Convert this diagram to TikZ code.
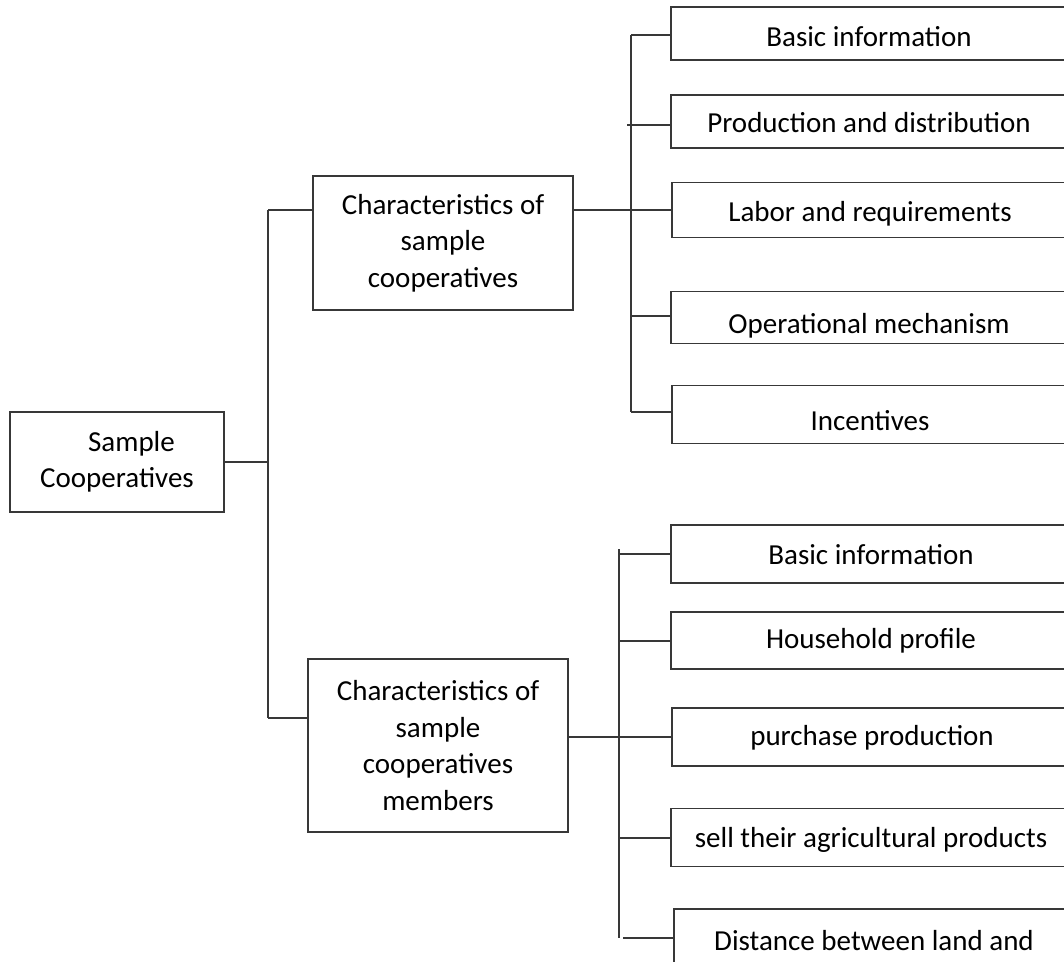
\documentclass[tikz,border=0pt]{standalone}
\usepackage{fontspec}
\setmainfont{Carlito}
\begin{document}
\begin{tikzpicture}[x=1pt,y=-1pt,
  box/.style={draw=black!78, line width=1.2pt, align=center, inner sep=0pt,
    font=\fontsize{29}{36.5}\selectfont},
  leaf/.style={box, text height=34pt, text depth=#1},
  conn/.style={draw=black!78, line width=1.2pt}]
\useasboundingbox (0,0) rectangle (1064,961);
\clip (0,0) rectangle (1064,961);

% main boxes
\node[box, minimum width=214pt, minimum height=100pt] (root) at (117,462) {\hspace*{1em}Sample\\Cooperatives};
\node[box, minimum width=260pt, minimum height=134pt] (c1) at (443,243) {Characteristics of\\sample\\cooperatives};
\node[box, minimum width=260pt, minimum height=173pt] (c2) at (438,745.5) {Characteristics of\\sample\\cooperatives\\members};

% upper leaves
\node[leaf=9pt,  minimum width=396pt, minimum height=53pt] (u1) at (869,33.5) {Basic information};
\node[leaf=13pt, minimum width=396pt, minimum height=53pt] (u2) at (869,121.5) {Production and distribution};
\node[leaf=11pt, minimum width=396pt, minimum height=55pt] (u3) at (870,210) {Labor and requirements};
\node[leaf=3pt,  minimum width=396pt, minimum height=52pt] (u4) at (869,317.5) {Operational mechanism};
\node[leaf=3pt,  minimum width=396pt, minimum height=58pt] (u5) at (870,414.5) {Incentives};

% lower leaves
\node[leaf=14pt, minimum width=400pt, minimum height=58pt] (l1) at (871,554) {Basic information};
\node[leaf=19pt, minimum width=400pt, minimum height=57pt] (l2) at (871,640.5) {Household profile};
\node[leaf=18pt, minimum width=400pt, minimum height=58pt] (l3) at (872,737) {purchase production};
\node[leaf=14pt, minimum width=400pt, minimum height=58pt] (l4) at (871,837.5) {sell their agricultural products};
\node[leaf=10pt, minimum width=400pt, minimum height=58pt] (l5) at (874,938) {Distance between land and};

% trunk
\coordinate (tt) at (268,210);
\coordinate (tb) at (268,718);
\draw[conn] (root.east) -- (root.east -| tt);
\draw[conn] (tt) -- (tb);
\draw[conn] (tt) -- (tt -| c1.west);
\draw[conn] (tb) -- (tb -| c2.west);

% upper bracket
\coordinate (ua) at (631,35);
\coordinate (ub) at (631,412);
\coordinate (u2t) at (627,125);
\coordinate (u4t) at (631,316);
\draw[conn] (ua) -- (ub);
\draw[conn] (ua) -- (ua -| u1.west);
\draw[conn] (u2t) -- (u2t -| u2.west);
\draw[conn] (c1.east |- u3.west) -- (u3.west);
\draw[conn] (u4t) -- (u4t -| u4.west);
\draw[conn] (ub) -- (ub -| u5.west);

% lower bracket
\coordinate (la) at (619,549);
\coordinate (lb) at (619,938);
\coordinate (l1t) at (619,554);
\coordinate (l2t) at (619,641);
\coordinate (l4t) at (620,838);
\coordinate (l5t) at (623,938);
\draw[conn] (la) -- (lb);
\draw[conn] (l1t) -- (l1t -| l1.west);
\draw[conn] (l2t) -- (l2t -| l2.west);
\draw[conn] (c2.east |- l3.west) -- (l3.west);
\draw[conn] (l4t) -- (l4t -| l4.west);
\draw[conn] (l5t) -- (l5t -| l5.west);
\end{tikzpicture}
\end{document}
